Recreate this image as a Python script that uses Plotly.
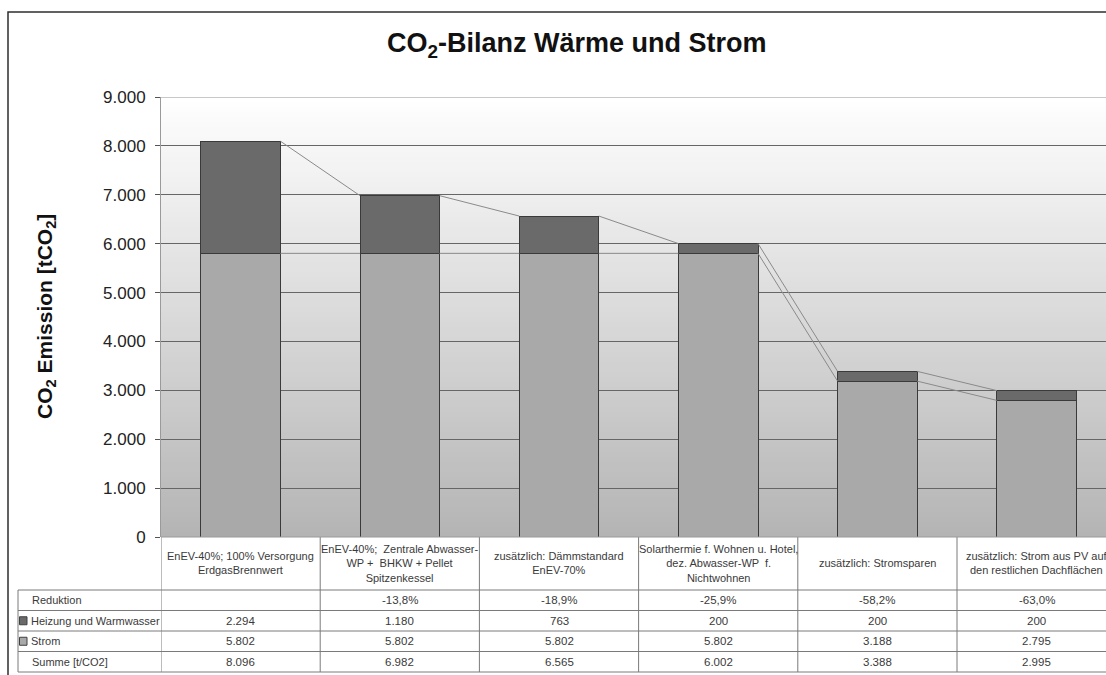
import plotly.graph_objects as go

# ---- data -------------------------------------------------------------
categories = [
    "EnEV-40%; 100% Versorgung<br>ErdgasBrennwert",
    "EnEV-40%;  Zentrale Abwasser-<br>WP +  BHKW + Pellet<br>Spitzenkessel",
    "zusätzlich: Dämmstandard<br>EnEV-70%",
    "Solarthermie f. Wohnen u. Hotel,<br>dez. Abwasser-WP  f.<br>Nichtwohnen",
    "zusätzlich: Stromsparen",
    "zusätzlich: Strom aus PV auf<br>den restlichen Dachflächen",
]
heizung = [2294, 1180, 763, 200, 200, 200]      # Heizung und Warmwasser
strom = [5802, 5802, 5802, 5802, 3188, 2795]    # Strom
summe = [8096, 6982, 6565, 6002, 3388, 2995]    # Summe [t/CO2]
reduktion = ["", "-13,8%", "-18,9%", "-25,9%", "-58,2%", "-63,0%"]
y_ticks = [0, 1000, 2000, 3000, 4000, 5000, 6000, 7000, 8000, 9000]

# ---- geometry (pixels) ------------------------------------------------
FIG_W, FIG_H = 1106, 675
L, R, T, B = 161, 1106, 97, 537
W, H = R - L, B - T
COL_W = 159.2                       # width of one category column


def px(x):
    return (x - L) / W


def py(y):
    return (B - y) / H


def de(v):
    return f"{v:,}".replace(",", ".")


FONT = "Liberation Sans, Arial, sans-serif"
C_STROM = "#A9A9A9"
C_HEIZ = "#6A6A6A"
C_EDGE = "#3A3A3A"
x_idx = list(range(len(categories)))

fig = go.Figure()

fig.add_trace(go.Bar(
    x=x_idx, y=strom, name="Strom", width=0.5,
    marker=dict(color=C_STROM, line=dict(color=C_EDGE, width=1)),
    hoverinfo="skip",
))
fig.add_trace(go.Bar(
    x=x_idx, y=heizung, name="Heizung und Warmwasser", width=0.5,
    marker=dict(color=C_HEIZ, line=dict(color=C_EDGE, width=1)),
    hoverinfo="skip",
))

# series lines joining the segment tops of neighbouring columns
tops = [s + h for s, h in zip(strom, heizung)]
for series in (strom, tops):
    xs, ys = [], []
    for i in range(len(series) - 1):
        xs += [i + 0.25, i + 0.75, None]
        ys += [series[i], series[i + 1], None]
    fig.add_trace(go.Scatter(
        x=xs, y=ys, mode="lines", line=dict(color="#8A8A8A", width=1),
        hoverinfo="skip", showlegend=False,
    ))

shapes = []

# plot-area background: vertical grey gradient
N = 88
for k in range(N):
    f = (k + 0.5) / N
    g = int(round(255 - (255 - 180) * f))
    shapes.append(dict(
        type="rect", xref="paper", yref="paper",
        x0=0, x1=1, y0=1 - (k + 1) / N, y1=1 - k / N,
        fillcolor=f"rgb({g},{g},{g})", line=dict(width=0), layer="below",
    ))

# lighter top border of the plot area
shapes.append(dict(type="line", xref="paper", yref="y", x0=0, x1=1,
                   y0=9000, y1=9000, line=dict(color="#C8C8C8", width=2),
                   layer="between"))

# outer chart frame
shapes.append(dict(type="rect", xref="paper", yref="paper",
                   x0=px(8), x1=px(1112), y0=py(680), y1=py(12),
                   line=dict(color="#2E2E2E", width=1.5), fillcolor="rgba(0,0,0,0)",
                   layer="above"))

# data table grid
ROW_LINES = [590, 610.5, 631, 651.5, 672]
TBL_LEFT = 18
LINE_C = "#7A7A7A"
for yl in ROW_LINES:
    shapes.append(dict(type="line", xref="paper", yref="paper",
                       x0=px(TBL_LEFT), x1=px(1112), y0=py(yl), y1=py(yl),
                       line=dict(color=LINE_C, width=1)))
shapes.append(dict(type="line", xref="paper", yref="paper",
                   x0=px(TBL_LEFT), x1=px(TBL_LEFT), y0=py(590), y1=py(672),
                   line=dict(color=LINE_C, width=1)))
for k in range(len(categories) + 1):
    shapes.append(dict(type="line", xref="x", yref="paper",
                       x0=k - 0.5, x1=k - 0.5, y0=py(B), y1=py(672),
                       line=dict(color=LINE_C, width=1)))
# baseline of the plot
shapes.append(dict(type="line", xref="paper", yref="paper", x0=0, x1=1,
                   y0=0, y1=0, line=dict(color="#9A9A9A", width=1)))

annotations = []
TXT_C = "#3A3A3A"

# chart title
annotations.append(dict(
    text="<b>CO<sub>2</sub>-Bilanz Wärme und Strom</b>",
    xref="paper", yref="paper", x=px(577), y=py(45), showarrow=False,
    font=dict(family=FONT, size=27, color="#111"), xanchor="center", yanchor="middle",
))
# y axis title
annotations.append(dict(
    text="<b>CO<sub>2</sub> Emission [tCO<sub>2</sub>]</b>",
    xref="paper", yref="paper", x=px(46), y=py(317), showarrow=False,
    textangle=-90, font=dict(family=FONT, size=21, color="#111"),
    xanchor="center", yanchor="middle",
))

# category labels
for i, c in enumerate(categories):
    annotations.append(dict(
        text=c, xref="x", yref="paper", x=i, y=py(563), showarrow=False,
        font=dict(family=FONT, size=11, color=TXT_C),
        xanchor="center", yanchor="middle", align="center",
    ))

# table rows
row_centers = [(ROW_LINES[j] + ROW_LINES[j + 1]) / 2 for j in range(4)]
row_labels = ["Reduktion", "Heizung und Warmwasser", "Strom", "Summe [t/CO2]"]
row_values = [reduktion, [de(v) for v in heizung], [de(v) for v in strom],
              [de(v) for v in summe]]
row_label_x = [30, 28.5, 28.5, 30]
for j in range(4):
    annotations.append(dict(
        text=row_labels[j], xref="paper", yref="paper",
        x=px(row_label_x[j]), y=py(row_centers[j]), showarrow=False,
        font=dict(family=FONT, size=11, color=TXT_C),
        xanchor="left", yanchor="middle",
    ))
    for i, v in enumerate(row_values[j]):
        if v:
            annotations.append(dict(
                text=v, xref="x", yref="paper", x=i, y=py(row_centers[j]),
                showarrow=False, font=dict(family=FONT, size=11.5, color=TXT_C),
                xanchor="center", yanchor="middle",
            ))

# legend keys inside the table
for j, col in ((1, C_HEIZ), (2, C_STROM)):
    yc = row_centers[j]
    shapes.append(dict(type="rect", xref="paper", yref="paper",
                       x0=px(19.5), x1=px(27), y0=py(yc + 4), y1=py(yc - 4),
                       fillcolor=col, line=dict(color="#404040", width=1)))

fig.update_layout(
    width=FIG_W, height=FIG_H,
    margin=dict(l=L, r=FIG_W - R, t=T, b=FIG_H - B, pad=0),
    barmode="stack", bargap=0.5,
    paper_bgcolor="white", plot_bgcolor="rgba(0,0,0,0)",
    showlegend=False,
    separators=",.",
    shapes=shapes, annotations=annotations,
    font=dict(family=FONT, color="#222"),
)
fig.update_xaxes(
    range=[-0.5, -0.5 + W / COL_W], showticklabels=False, showgrid=False,
    zeroline=False, showline=False, fixedrange=True,
)
fig.update_yaxes(
    range=[0, 9000], tickvals=y_ticks, tickformat=",d",
    showgrid=True, gridcolor="#666666", gridwidth=1,
    zeroline=False, showline=True, linecolor="#9A9A9A", linewidth=1,
    ticks="outside", ticklen=5, tickcolor="#555", ticklabelstandoff=6,
    tickfont=dict(family=FONT, size=17, color="#222"), fixedrange=True,
)

fig.write_html("out.html", config={"displayModeBar": False})
